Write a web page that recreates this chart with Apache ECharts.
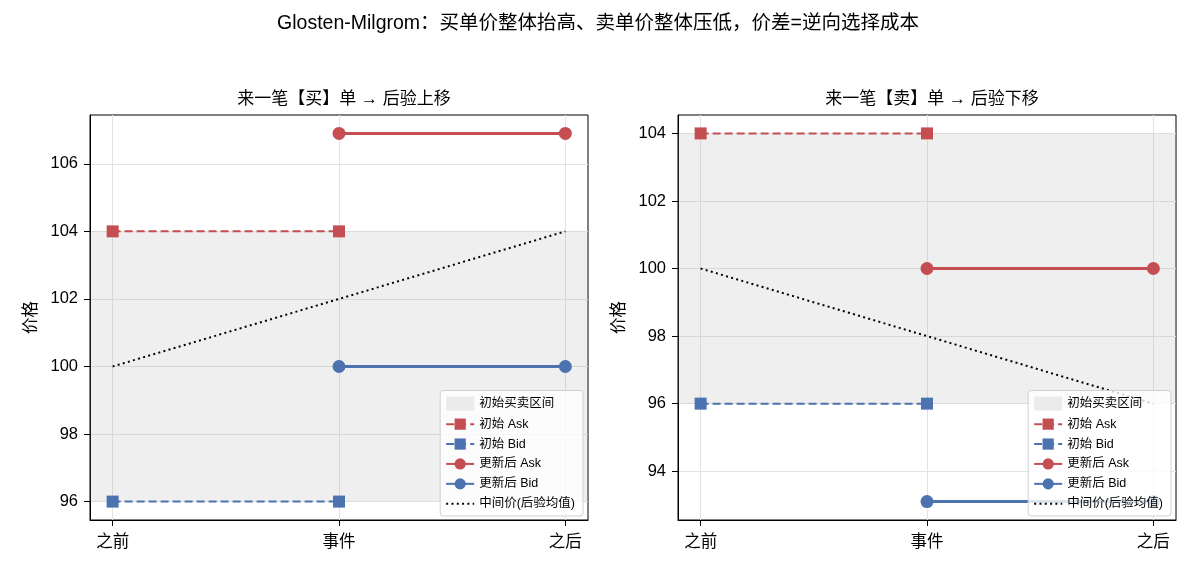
<!DOCTYPE html>
<html><head><meta charset="utf-8">
<script src="https://cdn.jsdelivr.net/npm/echarts@6/dist/echarts.min.js"></script>
<style>html,body{margin:0;padding:0;background:#fff}#c{width:1196px;height:572px}</style>
</head><body><div id="c"></div>
<script>
const categories = ['之前', '事件', '之后'];
const mainTitle = 'Glosten-Milgrom：买单价整体抬高、卖单价整体压低，价差=逆向选择成本';
const panelTitles = ['来一笔【买】单 → 后验上移', '来一笔【卖】单 → 后验下移'];
const yAxisName = '价格';
const seriesNames = ['初始买卖区间', '初始 Ask', '初始 Bid', '更新后 Ask', '更新后 Bid', '中间价(后验均值)'];

// Buy panel
const buyBand = [96, 104];
const buyInitAsk = [104, 104, null];
const buyInitBid = [96, 96, null];
const buyNewAsk = [null, 106.9, 106.9];
const buyNewBid = [null, 100, 100];
const buyMid = [100, 102, 104];
const buyYTicks = [96, 98, 100, 102, 104, 106];

// Sell panel
const sellBand = [96, 104];
const sellInitAsk = [104, 104, null];
const sellInitBid = [96, 96, null];
const sellNewAsk = [null, 100, 100];
const sellNewBid = [null, 93.1, 93.1];
const sellMid = [100, 98, 96];
const sellYTicks = [94, 96, 98, 100, 102, 104];

const RED = '#c44e52', BLUE = '#4c72b0';
const FONT = '"Liberation Sans", "Noto Sans CJK SC", sans-serif';

function pairs(arr) {
  const out = [];
  arr.forEach((v, i) => { if (v !== null) out.push([i, v]); });
  return out;
}
function range(list) {
  const all = [].concat(...list).filter(v => v !== null);
  const lo = Math.min(...all), hi = Math.max(...all);
  const m = (hi - lo) * 0.05;
  return [lo - m, hi + m];
}

const panels = [
  { band: buyBand, ia: buyInitAsk, ib: buyInitBid, na: buyNewAsk, nb: buyNewBid, mid: buyMid, ticks: buyYTicks, left: 90, title: panelTitles[0] },
  { band: sellBand, ia: sellInitAsk, ib: sellInitBid, na: sellNewAsk, nb: sellNewBid, mid: sellMid, ticks: sellYTicks, left: 678, title: panelTitles[1] }
];
const GW = 498, GT = 115, GH = 405;

const option = {
  animation: false,
  backgroundColor: '#fff',
  textStyle: { fontFamily: FONT },
  title: [{ text: mainTitle, left: 'center', top: 9, textStyle: { fontSize: 19.5, fontWeight: 'normal', color: '#000', fontFamily: FONT } }],
  grid: [], xAxis: [], yAxis: [], series: [], legend: []
};

panels.forEach((p, k) => {
  const [ymin, ymax] = range([p.ia, p.ib, p.na, p.nb, p.mid]);
  option.title.push({ text: p.title, left: p.left + GW / 2, textAlign: 'center', top: 86, textStyle: { fontSize: 17, fontWeight: 'normal', color: '#000', fontFamily: FONT } });
  option.grid.push({ left: p.left, top: GT, width: GW, height: GH, show: true, borderColor: '#000', borderWidth: 1, backgroundColor: 'transparent' });
  option.xAxis.push({
    type: 'value', gridIndex: k, min: -0.1, max: 2.1,
    axisLine: { show: true, onZero: false, lineStyle: { color: '#000', width: 1 } },
    axisTick: { show: true, length: 6, customValues: [0, 1, 2], lineStyle: { color: '#000' } },
    axisLabel: { customValues: [0, 1, 2], formatter: v => categories[Math.round(v)], fontSize: 16.5, color: '#000', margin: 14, fontFamily: FONT },
    splitLine: { show: true, lineStyle: { color: '#e3e3e3', width: 1 } }
  });
  option.yAxis.push({
    type: 'value', gridIndex: k, min: ymin, max: ymax,
    name: yAxisName, nameLocation: 'middle', nameGap: 50, nameRotate: 90,
    nameTextStyle: { fontSize: 16.5, color: '#000', fontFamily: FONT },
    axisLine: { show: true, onZero: false, lineStyle: { color: '#000', width: 1 } },
    axisTick: { show: true, length: 6, customValues: p.ticks, lineStyle: { color: '#000' } },
    axisLabel: { customValues: p.ticks, fontSize: 16.5, color: '#000', margin: 12, fontFamily: FONT },
    splitLine: { show: true, lineStyle: { color: '#e3e3e3', width: 1 } }
  });
  option.series.push(
    {
      name: seriesNames[0], type: 'line', xAxisIndex: k, yAxisIndex: k,
      data: [[0, p.band[0]]], showSymbol: false, symbol: 'none', lineStyle: { opacity: 0 },
      itemStyle: { color: '#ebebeb' }, z: 1,
      markArea: { silent: true, itemStyle: { color: 'rgba(160,160,160,0.17)' }, data: [[{ yAxis: p.band[0] }, { yAxis: p.band[1] }]] }
    },
    {
      name: seriesNames[1], type: 'line', xAxisIndex: k, yAxisIndex: k, data: pairs(p.ia),
      symbol: 'rect', symbolSize: 12, itemStyle: { color: RED }, lineStyle: { color: RED, width: 2, type: [8, 4] }, z: 3
    },
    {
      name: seriesNames[2], type: 'line', xAxisIndex: k, yAxisIndex: k, data: pairs(p.ib),
      symbol: 'rect', symbolSize: 12, itemStyle: { color: BLUE }, lineStyle: { color: BLUE, width: 2, type: [8, 4] }, z: 3
    },
    {
      name: seriesNames[3], type: 'line', xAxisIndex: k, yAxisIndex: k, data: pairs(p.na),
      symbol: 'circle', symbolSize: 13, itemStyle: { color: RED }, lineStyle: { color: RED, width: 3 }, z: 3
    },
    {
      name: seriesNames[4], type: 'line', xAxisIndex: k, yAxisIndex: k, data: pairs(p.nb),
      symbol: 'circle', symbolSize: 13, itemStyle: { color: BLUE }, lineStyle: { color: BLUE, width: 3 }, z: 3
    },
    {
      name: seriesNames[5], type: 'line', xAxisIndex: k, yAxisIndex: k, data: pairs(p.mid),
      showSymbol: false, symbol: 'none', itemStyle: { color: '#000' }, lineStyle: { color: '#000', width: 2, type: [2, 3.3] }, z: 3
    }
  );
  option.legend.push({
    orient: 'vertical', right: 1196 - (p.left + GW) + 5, bottom: 56,
    padding: [6, 8, 6, 5], itemGap: 7.4, itemWidth: 28, itemHeight: 14,
    backgroundColor: 'rgba(255,255,255,0.8)', borderColor: '#d0d0d0', borderWidth: 1, borderRadius: 3,
    textStyle: { fontSize: 12.5, color: '#000', fontFamily: FONT },
    data: seriesNames.map((n, i) => {
      if (i === 0) return { name: n, icon: 'rect', itemStyle: { color: '#ebebeb' } };
      if (i === 5) return { name: n, itemStyle: { opacity: 0 } };
      return n;
    }),
    z: 10
  });
});

const chart = echarts.init(document.getElementById('c'), null, { renderer: 'canvas' });
chart.setOption(option);
</script></body></html>
